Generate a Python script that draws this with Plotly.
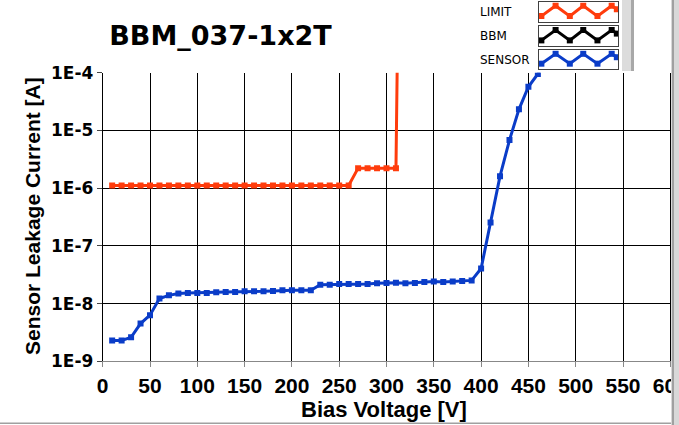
import plotly.graph_objects as go

# ---------------- data ----------------
SENSOR_V = [10, 20, 30, 40, 50, 60, 70, 80, 90, 100, 110, 120, 130, 140, 150, 160,
            170, 180, 190, 200, 210, 220, 230, 240, 250, 260, 270, 280, 290, 300,
            310, 320, 330, 340, 350, 360, 370, 380, 390, 400, 410, 420, 430, 440,
            450, 460, 470]
SENSOR_I = [2.3e-9, 2.3e-9, 2.6e-9, 4.5e-9, 6.3e-9, 1.22e-8, 1.39e-8, 1.49e-8,
            1.53e-8, 1.53e-8, 1.53e-8, 1.57e-8, 1.59e-8, 1.59e-8, 1.63e-8, 1.63e-8,
            1.63e-8, 1.66e-8, 1.70e-8, 1.70e-8, 1.70e-8, 1.70e-8, 2.13e-8, 2.13e-8,
            2.19e-8, 2.19e-8, 2.19e-8, 2.19e-8, 2.25e-8, 2.28e-8, 2.30e-8, 2.24e-8,
            2.28e-8, 2.37e-8, 2.42e-8, 2.37e-8, 2.42e-8, 2.45e-8, 2.52e-8, 4.05e-8,
            2.54e-7, 1.61e-6, 6.8e-6, 2.32e-5, 5.71e-5, 9.5e-5, 2.0e-4]

LIMIT_V = [10, 20, 30, 40, 50, 60, 70, 80, 90, 100, 110, 120, 130, 140, 150, 160,
           170, 180, 190, 200, 210, 220, 230, 240, 250, 260, 270, 280, 290, 300,
           310, 312]
LIMIT_I = [1.11e-6] * 26 + [2.22e-6, 2.22e-6, 2.22e-6, 2.22e-6, 2.22e-6, 1e-3]

BBM_V = []
BBM_I = []

X_TICKS = [0, 50, 100, 150, 200, 250, 300, 350, 400, 450, 500, 550, 600]
Y_TICK_VALS = [1e-9, 1e-8, 1e-7, 1e-6, 1e-5, 1e-4]
Y_TICK_TEXT = ["1E-9", "1E-8", "1E-7", "1E-6", "1E-5", "1E-4"]

SERIES_NAMES = ["LIMIT", "BBM", "SENSOR"]
SERIES_COLORS = ["#ff3c0c", "#000000", "#0a3cc8"]

# legend glyph (zig-zag sample drawn in each legend box)
GLYPH_X = [0.03, 0.21, 0.39, 0.56, 0.74, 0.92, 0.985]
GLYPH_Y = [0.28, 0.80, 0.28, 0.80, 0.28, 0.80, 0.62]

# ---------------- layout helpers ----------------
W, H = 679, 425


def px(x):
    return x / W


def py(y):
    return 1 - y / H


fig = go.Figure()

main_data = {
    "LIMIT": (LIMIT_V, LIMIT_I),
    "BBM": (BBM_V, BBM_I),
    "SENSOR": (SENSOR_V, SENSOR_I),
}
for name, color in zip(SERIES_NAMES, SERIES_COLORS):
    xs, ys = main_data[name]
    fig.add_trace(go.Scatter(
        x=xs, y=ys, mode="lines+markers", name=name,
        line=dict(color=color, width=3),
        marker=dict(symbol="square", size=6, color=color),
        showlegend=False, xaxis="x", yaxis="y",
    ))

# legend boxes as small inset axes
box_y = [(1.7, 21.7), (26, 46), (50, 69)]
label_y = [11.7, 35.8, 60]
for i, (name, color) in enumerate(zip(SERIES_NAMES, SERIES_COLORS)):
    k = i + 2
    fig.add_trace(go.Scatter(
        x=GLYPH_X, y=GLYPH_Y, mode="lines+markers",
        line=dict(color=color, width=3),
        marker=dict(symbol="square", size=6, color=color),
        showlegend=False, xaxis=f"x{k}", yaxis=f"y{k}", hoverinfo="skip",
    ))
    y0, y1 = box_y[i]
    fig.update_layout(**{
        f"xaxis{k}": dict(domain=[px(539), px(618)], range=[0, 1], showgrid=False,
                          zeroline=False, showticklabels=False, ticks="",
                          showline=True, mirror=True, linecolor="#404040",
                          linewidth=1, fixedrange=True, anchor=f"y{k}"),
        f"yaxis{k}": dict(domain=[py(y1), py(y0)], range=[0, 1], showgrid=False,
                          zeroline=False, showticklabels=False, ticks="",
                          showline=True, mirror=True, linecolor="#404040",
                          linewidth=1, fixedrange=True, anchor=f"x{k}"),
    })
    fig.add_annotation(x=px(478), y=py(label_y[i]), xref="paper", yref="paper",
                       text=name, showarrow=False, xanchor="left", yanchor="middle",
                       font=dict(family="DejaVu Sans", size=12, color="#000000"))

# axis titles
fig.add_annotation(x=px(384), y=py(409), xref="paper", yref="paper",
                   text="Bias Voltage [V]", showarrow=False,
                   xanchor="center", yanchor="middle",
                   font=dict(family="Liberation Sans", size=22, color="#000000",
                             weight="bold"))
fig.add_annotation(x=px(33), y=py(216), xref="paper", yref="paper",
                   text="Sensor Leakage Current [A]", showarrow=False, textangle=-90,
                   xanchor="center", yanchor="middle",
                   font=dict(family="Liberation Sans", size=21, color="#000000",
                             weight="bold"))

# frame decorations
shapes = [
    dict(type="rect", xref="paper", yref="paper", x0=px(622), x1=px(631),
         y0=py(71), y1=py(0), fillcolor="#dcdcdc", line=dict(width=0)),
    dict(type="rect", xref="paper", yref="paper", x0=px(631), x1=px(634),
         y0=py(71), y1=py(0), fillcolor="#a8a8a8", line=dict(width=0)),
    dict(type="rect", xref="paper", yref="paper", x0=px(671), x1=px(679),
         y0=py(425), y1=py(0), fillcolor="#d8d8d8", line=dict(width=0)),
    dict(type="rect", xref="paper", yref="paper", x0=px(672), x1=px(674),
         y0=py(425), y1=py(0), fillcolor="#a0a0a0", line=dict(width=0)),
    dict(type="line", xref="paper", yref="paper", x0=0, x1=px(671),
         y0=py(423.3), y1=py(423.3), line=dict(color="#a0a0a0", width=1.5)),
]

fig.update_layout(
    width=W, height=H, autosize=False,
    margin=dict(l=0, r=0, t=0, b=0),
    paper_bgcolor="#ffffff", plot_bgcolor="#ffffff",
    title=dict(text="BBM_037-1x2T", x=px(220.5), y=py(36), xref="paper", yref="paper",
               xanchor="center", yanchor="middle",
               font=dict(family="DejaVu Sans", size=27, color="#000000", weight="bold")),
    xaxis=dict(domain=[px(102.7), px(670.3)], range=[0, 600], tickvals=X_TICKS,
               showgrid=True, gridcolor="#000000", gridwidth=1, zeroline=False,
               ticks="outside", ticklen=5, tickcolor="#888888",
               showline=True, linecolor="#888888", linewidth=1, mirror=False,
               tickfont=dict(family="Liberation Sans", size=21, color="#000000",
                             weight="bold"),
               ticklabeloverflow="allow",
               anchor="y", automargin=False, fixedrange=True),
    yaxis=dict(domain=[py(361.3), py(72.7)], type="log", range=[-9, -4],
               tickvals=Y_TICK_VALS, ticktext=Y_TICK_TEXT,
               showgrid=True, gridcolor="#000000", gridwidth=1, zeroline=False,
               ticks="outside", ticklen=5, tickcolor="#444444",
               showline=True, linecolor="#000000", linewidth=1, mirror=True,
               tickfont=dict(family="DejaVu Sans", size=17, color="#000000",
                             weight="bold"),
               anchor="x", automargin=False, fixedrange=True),
    shapes=shapes,
    showlegend=False,
)

fig.write_html(
    "out.html",
    config={"displayModeBar": False},
    post_script="document.body.style.margin='0';document.body.style.overflow='hidden';",
)
